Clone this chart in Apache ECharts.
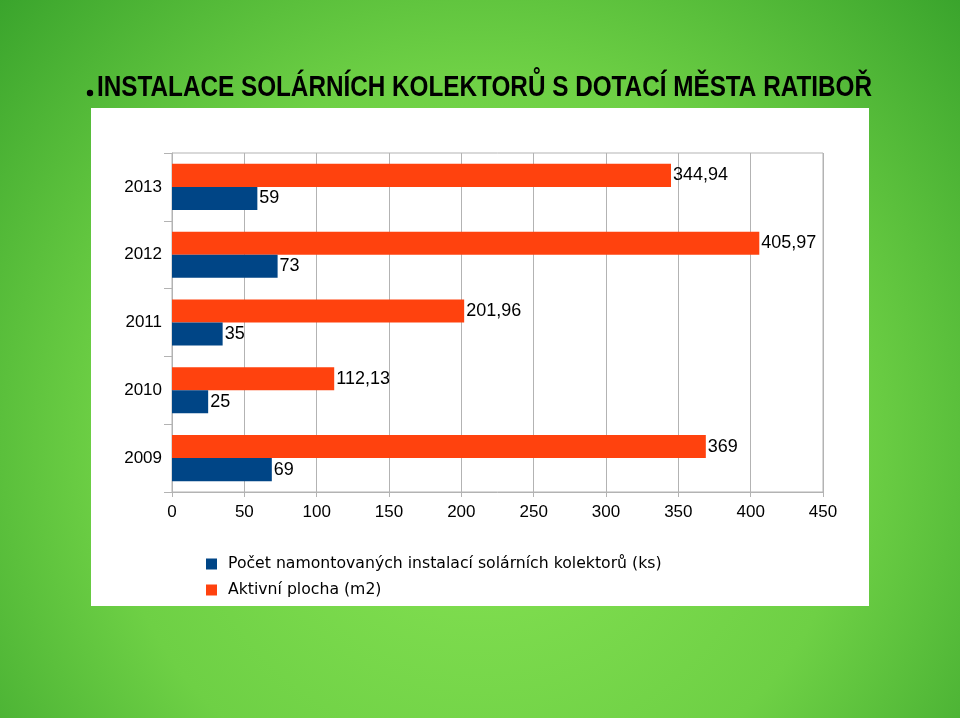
<!DOCTYPE html>
<html><head><meta charset="utf-8">
<script src="https://cdn.jsdelivr.net/npm/echarts@6/dist/echarts.min.js"></script>
<style>html,body{margin:0;padding:0;}#c{width:960px;height:718px;}</style>
</head><body><div id="c"></div>
<script>
const years = ['2009', '2010', '2011', '2012', '2013'];
const pocet = [69, 25, 35, 73, 59];
const plocha = [369, 112.13, 201.96, 405.97, 344.94];
const xTicks = { min: 0, max: 450, interval: 50 };
const seriesNames = ['Počet namontovaných instalací solárních kolektorů (ks)', 'Aktivní plocha (m2)'];
const titleText = 'INSTALACE SOLÁRNÍCH KOLEKTORŮ S DOTACÍ MĚSTA RATIBOŘ';

const titleFont = 'bold 29px "Liberation Sans", Arial, sans-serif';
const cv = document.createElement('canvas').getContext('2d');
cv.font = titleFont;
const tw = cv.measureText(titleText).width;
const sx = 775 / tw;

function fmt(v) { return String(v).replace('.', ','); }

const chart = echarts.init(document.getElementById('c'));
const labelStyle = { show: true, position: 'right', distance: 2, color: '#000', fontSize: 18, fontFamily: '"Liberation Sans", Arial, sans-serif', formatter: p => fmt(p.value) };
chart.setOption({
  backgroundColor: { type: 'radial', x: 0.5, y: 0.62, r: 0.95, colorStops: [
    { offset: 0, color: '#88e454' }, { offset: 0.55, color: '#6ed045' }, { offset: 1, color: '#35a02a' } ] },
  animation: false,
  graphic: [
    { type: 'rect', z: -10, shape: { x: 91, y: 108, width: 778, height: 498 }, style: { fill: '#ffffff' } },
    { type: 'circle', shape: { cx: 90, cy: 93, r: 3.2 }, style: { fill: '#000' } },
    { type: 'text', x: 97, y: 102, scaleX: sx, style: { text: titleText, font: titleFont, fill: '#000', textVerticalAlign: 'bottom', verticalAlign: 'bottom' } }
  ],
  grid: { left: 172, right: 137, top: 153, bottom: 226, show: true, borderColor: '#b3b3b3', borderWidth: 1, containLabel: false },
  xAxis: {
    type: 'value', min: xTicks.min, max: xTicks.max, interval: xTicks.interval,
    axisLine: { show: true, lineStyle: { color: '#b3b3b3' } },
    axisTick: { show: true, length: 5, lineStyle: { color: '#b3b3b3' } },
    splitLine: { show: true, lineStyle: { color: '#b3b3b3' } },
    axisLabel: { color: '#000', fontSize: 17, margin: 12, fontFamily: '"Liberation Sans", Arial, sans-serif' }
  },
  yAxis: {
    type: 'category', data: years,
    axisLine: { show: true, lineStyle: { color: '#b3b3b3' } },
    axisTick: { show: true, length: 8, lineStyle: { color: '#b3b3b3' } },
    axisLabel: { color: '#000', fontSize: 17, margin: 10, fontFamily: '"Liberation Sans", Arial, sans-serif' }
  },
  legend: {
    orient: 'vertical', left: 206, top: 556, padding: 0, itemWidth: 11, itemHeight: 11, itemGap: 10,
    icon: 'rect', data: seriesNames,
    textStyle: { color: '#000', fontSize: 15.7, fontFamily: '"DejaVu Sans", sans-serif', padding: [0, 0, 0, 6] }
  },
  series: [
    { name: seriesNames[1], type: 'bar', data: plocha, barGap: '0%', barCategoryGap: '32%', itemStyle: { color: '#ff420e' }, label: labelStyle },
    { name: seriesNames[0], type: 'bar', data: pocet, barGap: '0%', barCategoryGap: '32%', itemStyle: { color: '#004586' }, label: labelStyle }
  ]
});
</script></body></html>
